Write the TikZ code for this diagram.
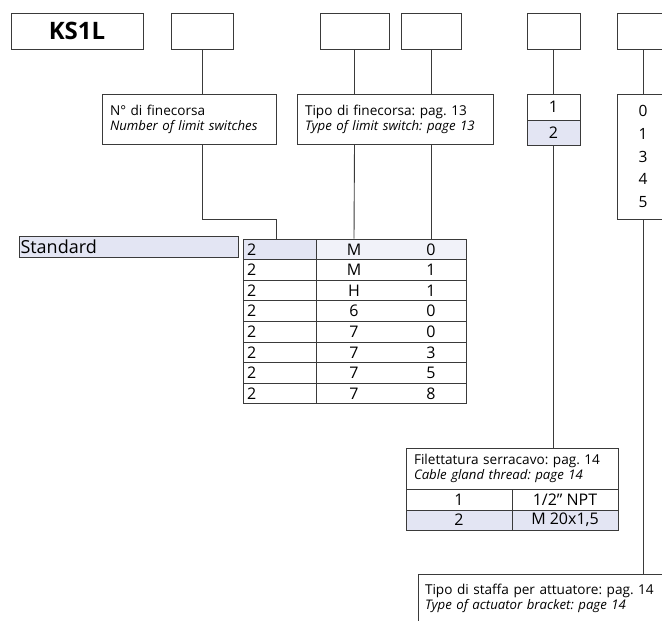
\documentclass[tikz,border=0pt]{standalone}
\usepackage{fontspec}
\setmainfont{Open Sans}
\usetikzlibrary{positioning}
\definecolor{lav}{HTML}{E3E5F3}
\definecolor{lavlight}{HTML}{F1F2F9}
\definecolor{edge}{HTML}{3A3A3A}
\newcommand{\entext}[1]{{\fontsize{13.2}{15}\selectfont\itshape #1}}
\frenchspacing

\begin{document}
\begin{tikzpicture}[x=1pt,y=-1pt,
    box/.style={draw=edge, line width=0.9pt, minimum height=36pt, inner sep=0pt},
    lab/.style={draw=edge, line width=0.9pt, align=left, inner xsep=8pt, inner ysep=0pt,
      font=\fontsize{13.6}{15}\selectfont},
    cell/.style={draw=edge, line width=0.9pt, inner sep=0pt, font=\fontsize{16}{17}\selectfont},
    txt/.style={inner sep=0pt, font=\fontsize{16}{17}\selectfont},
    wire/.style={edge, line width=0.9pt}]
    \useasboundingbox (0,0) rectangle (662,621);

    \node[box, minimum width=132pt, font=\fontsize{24}{24}\selectfont\bfseries] (code) at (77,31) {KS1L};
    \node[box, minimum width=62pt] (b1) at (202,31) {};
    \node[box, minimum width=69pt] (b2) at (354.5,31) {};
    \node[box, minimum width=60pt] (b3) at (431,31) {};
    \node[box, minimum width=53pt] (b4) at (553.5,31) {};
    \node[box, minimum width=52pt] (b5) at (643,31) {};

    \node[lab, minimum width=174pt, minimum height=50pt, text width=158pt] (nlab) at (189,119)
      {N° di finecorsa\\ \entext{Number of limit switches}};
    \node[lab, minimum width=196pt, minimum height=50pt, text width=180pt] (tlab) at (395,119)
      {Tipo di finecorsa: pag. 13\\ \entext{Type of limit switch: page 13}};

    \node[cell, minimum width=53pt, minimum height=26pt] (s1) at (553.5,107) {1};
    \node[cell, fill=lav, minimum width=53pt, minimum height=25pt] (s2) at (553.5,132.5) {2};

    \node[cell, minimum width=52pt, minimum height=125pt, align=center,
      font=\fontsize{15.5}{22.7}\selectfont] (b05) at (643,156.5) {0\\1\\3\\4\\5};

    \node[cell, fill=lav, minimum width=219pt, minimum height=21pt, text width=216pt,
      inner xsep=1.5pt, align=left, font=\fontsize{18}{18}\selectfont] (std) at (128.5,246.5) {Standard};

    \fill[lav] (243,239) rectangle (316,259.6);
    \fill[lavlight] (316,239) rectangle (466,259.6);
    \foreach \mid/\last [count=\r from 0] in {M/0,M/1,H/1,6/0,7/0,7/3,7/5,7/8}{
      \node[cell, minimum width=73pt, minimum height=20.6pt, text width=65pt, align=left]
        (c1-\r) at (279.5,249.3+20.6*\r) {2};
      \node[cell, minimum width=150pt, minimum height=20.6pt] (c2-\r) at (391,249.3+20.6*\r) {};
      \node[txt] (m-\r) at (354,249.3+20.6*\r) {\mid};
      \node[txt] (l-\r) at (431,249.3+20.6*\r) {\last};
    }

    \node[lab, minimum width=212pt, minimum height=41pt, text width=196pt] (flab) at (512,468.5)
      {Filettatura serracavo: pag. 14\\ \entext{Cable gland thread: page 14}};
    \node[cell, minimum width=106pt, minimum height=21pt] (f1) at (459,499.5) {1};
    \node[cell, minimum width=106pt, minimum height=21pt] (f2) at (565,499.5) {1/2" NPT};
    \node[cell, fill=lav, minimum width=106pt, minimum height=20pt] (f3) at (459,520) {2};
    \node[cell, fill=lav, minimum width=106pt, minimum height=20pt] (f4) at (565,520) {M 20x1,5};

    \node[lab, minimum width=262pt, minimum height=48pt, text width=248pt, inner xsep=7pt] (slab) at (549,598)
      {Tipo di staffa per attuatore: pag. 14\\ \entext{Type of actuator bracket: page 14}};

    \coordinate (bend) at (202,219);

    \draw[wire] (b1.south) -- (b1.south |- nlab.north);
    \draw[wire] (b1.south |- nlab.south) -- (bend) -| ([xshift=-3.5pt]c1-0.north);
    \draw[wire] (b2.south) -- (b2.south |- tlab.north);
    \draw[wire] (b2.south |- tlab.south) -- (m-0 |- c2-0.north);
    \draw[wire] (b3.south) -- (b3.south |- tlab.north);
    \draw[wire] (b3.south |- tlab.south) -- (l-0 |- c2-0.north);
    \draw[wire] (b4.south) -- (s1.north);
    \draw[wire] (s2.south) -- (s2.south |- flab.north);
    \draw[wire] (b5.south) -- (b05.north);
    \draw[wire] (b05.south) -- (b05.south |- slab.north);

  \end{tikzpicture}
\end{document}
